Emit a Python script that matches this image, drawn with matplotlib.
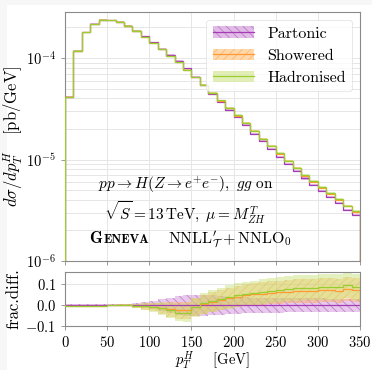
import numpy as np
import matplotlib
matplotlib.use("Agg")
import matplotlib.pyplot as plt
from matplotlib.patches import Patch, Rectangle
from matplotlib.lines import Line2D

plt.rcParams['font.family'] = 'serif'
plt.rcParams['font.serif'] = ['cmr10']
plt.rcParams['mathtext.fontset'] = 'cm'
plt.rcParams['axes.formatter.use_mathtext'] = True
plt.rcParams['hatch.linewidth'] = 0.6
plt.rcParams['axes.unicode_minus'] = True

# bin edges (GeV)
edges = np.arange(0, 360, 10)

# partonic spectrum dsigma/dpT [pb/GeV]
partonic = [4.17e-5, 1.185e-4, 1.805e-4, 2.18e-4, 2.395e-4, 2.37e-4, 2.28e-4,
            2.08e-4, 1.86e-4, 1.63e-4, 1.43e-4, 1.24e-4, 1.08e-4, 9.4e-5,
            7.9e-5, 6.5e-5, 5.4e-5, 4.45e-5, 3.72e-5, 3.1e-5, 2.6e-5, 2.18e-5,
            1.8e-5, 1.51e-5, 1.27e-5, 1.07e-5, 9.05e-6, 7.7e-6, 6.5e-6, 5.6e-6,
            4.88e-6, 4.26e-6, 3.71e-6, 3.2e-6, 2.83e-6]

# fractional differences w.r.t. partonic
diff_shower = [-0.002, -0.002, -0.002, -0.002, -0.002, -0.001, 0.0, 0.0, -0.003,
               -0.006, -0.01, -0.015, -0.02, -0.025, -0.025, -0.01, 0.005, 0.015,
               0.025, 0.035, 0.042, 0.048, 0.052, 0.056, 0.06, 0.063, 0.066,
               0.068, 0.07, 0.07, 0.072, 0.072, 0.07, 0.08, 0.072]
diff_hadron = [-0.004, -0.004, -0.003, -0.002, -0.002, -0.001, 0.0, 0.0, -0.002,
               -0.005, -0.01, -0.015, -0.025, -0.035, -0.035, -0.01, 0.01, 0.02,
               0.03, 0.04, 0.048, 0.053, 0.06, 0.065, 0.07, 0.075, 0.08, 0.082,
               0.085, 0.085, 0.086, 0.086, 0.088, 0.097, 0.088]

# band half-widths (fractional)
err_parton = [0.005, 0.005, 0.004, 0.004, 0.004, 0.004, 0.005, 0.006, 0.01,
              0.015, 0.02, 0.03, 0.037, 0.045, 0.05, 0.05, 0.05, 0.048, 0.045,
              0.042, 0.04, 0.038, 0.036, 0.035, 0.035, 0.035, 0.034, 0.034,
              0.033, 0.033, 0.033, 0.032, 0.032, 0.032, 0.032]
err_shower = [0.004, 0.004, 0.003, 0.003, 0.003, 0.003, 0.004, 0.006, 0.01,
              0.015, 0.02, 0.028, 0.035, 0.04, 0.042, 0.044, 0.046, 0.048, 0.05,
              0.05, 0.052, 0.053, 0.054, 0.055, 0.056, 0.056, 0.057, 0.057,
              0.058, 0.058, 0.058, 0.058, 0.058, 0.058, 0.058]
err_hadron = [0.004, 0.004, 0.003, 0.003, 0.003, 0.003, 0.004, 0.006, 0.01,
              0.016, 0.022, 0.03, 0.036, 0.042, 0.045, 0.047, 0.05, 0.052, 0.054,
              0.056, 0.057, 0.058, 0.059, 0.06, 0.06, 0.061, 0.061, 0.062,
              0.062, 0.062, 0.062, 0.062, 0.062, 0.062, 0.062]
# band in the spectrum panel (fractional)
err_main = [0.005, 0.005, 0.005, 0.005, 0.005, 0.005, 0.005, 0.006, 0.007,
            0.008, 0.009, 0.01, 0.011, 0.012, 0.013, 0.014, 0.015, 0.016, 0.017,
            0.018, 0.019, 0.02, 0.02, 0.021, 0.021, 0.022, 0.022, 0.023, 0.023,
            0.024, 0.024, 0.025, 0.025, 0.025, 0.025]

partonic = np.array(partonic)
diff_shower = np.array(diff_shower)
diff_hadron = np.array(diff_hadron)
showered = partonic * (1 + diff_shower)
hadronised = partonic * (1 + diff_hadron)

series = [
    ("Partonic", partonic, np.zeros_like(partonic), np.array(err_parton),
     '#a43cb4', '#c47ad0', '\\\\\\\\', 0.4),
    ("Showered", showered, diff_shower, np.array(err_shower),
     '#ff9a35', '#ffb25a', '////', 0.4),
    ("Hadronised", hadronised, diff_hadron, np.array(err_hadron),
     '#9acd32', '#c4e070', None, 0.45),
]

fig = plt.figure(figsize=(3.72, 3.70), dpi=100)
fig.patch.set_facecolor('#f7f7f7')
fig.patches.append(Rectangle((7 / 372, 0), 1, (370 - 5) / 370, transform=fig.transFigure,
                             facecolor='white', edgecolor='none', zorder=-10))

ax = fig.add_axes([65 / 372, (370 - 261) / 370, 295 / 372, 249 / 370])
axr = fig.add_axes([65 / 372, (370 - 326) / 370, 295 / 372, 54 / 370])

emain = np.array(err_main)
handles = []
for name, vals, dif, err, lc, fc, hatch, alpha in series:
    ax.stairs(vals * (1 + emain), edges, baseline=vals * (1 - emain), fill=True,
              facecolor=fc, alpha=0.5, edgecolor='none', zorder=2)
    ax.stairs(vals, edges, color=lc, lw=0.9, zorder=3)

    axr.stairs(dif + err, edges, baseline=dif - err, fill=True,
               facecolor=fc, alpha=alpha, edgecolor='none', zorder=2)
    if hatch:
        axr.stairs(dif + err, edges, baseline=dif - err, fill=False, hatch=hatch,
                   edgecolor=lc, alpha=0.5, lw=0, zorder=2)
    axr.stairs(dif, edges, color=lc, lw=0.9, zorder=3)

    patch = Patch(facecolor=fc, alpha=0.5, hatch=hatch, edgecolor=lc if hatch else 'none', lw=0)
    handles.append(((patch, Line2D([], [], color=lc, lw=0.9)), name))

for a in (ax, axr):
    a.set_xlim(0, 350)
    a.set_xticks([0, 50, 100, 150, 200, 250, 300, 350])
    for s in a.spines.values():
        s.set_color('#8a8a8a')
    a.tick_params(colors='#8a8a8a', labelcolor='black', labelsize=10.5, length=3,
                  width=0.6)
    a.tick_params(which='minor', length=0)
    a.set_axisbelow(True)

ax.set_yscale('log')
ax.set_ylim(1e-6, 2.84e-4)
ax.grid(True, which='both', color='#e6e6e6', lw=0.7)
ax.tick_params(labelbottom=False)
ax.set_ylabel(r'$d\sigma/dp_T^H$   [pb/GeV]', fontsize=12, labelpad=1)

axr.set_ylim(-0.1, 0.16)
axr.set_yticks([-0.1, 0.0, 0.1])
axr.set_yticklabels([r'$-0.1$', r'$0.0$', r'$0.1$'])
axr.grid(True, color='#e6e6e6', lw=0.7)
axr.set_ylabel('frac.diff.', fontsize=12, labelpad=3)
axr.set_xlabel(r'$p_T^H$    [GeV]', fontsize=10.5, labelpad=-0.5)

leg = ax.legend([h for h, _ in handles], [n for _, n in handles], loc='upper right',
                fontsize=11.5, handlelength=2.6, frameon=True, fancybox=True,
                borderaxespad=0.5, labelspacing=0.5)
leg.get_frame().set_edgecolor('#dddddd')
leg.get_frame().set_linewidth(0.6)

ax.text(0.41, 0.305, r'$pp \to H(Z \to e^{+}e^{-}),\ gg$ on', transform=ax.transAxes,
        ha='center', va='center', fontsize=11)
ax.text(0.405, 0.195, r'$\sqrt{S} = 13\,\mathrm{TeV},\ \mu = M_{ZH}^{T}$',
        transform=ax.transAxes, ha='center', va='center', fontsize=11)
ax.text(0.083, 0.072, 'G', transform=ax.transAxes, ha='left', va='baseline',
        fontsize=12, family='cmb10')
ax.text(0.13, 0.072, 'ENEVA', transform=ax.transAxes, ha='left', va='baseline',
        fontsize=9.2, family='cmb10')
ax.text(0.56, 0.072, r"$\mathrm{NNLL}^{\prime}_{\mathcal{T}} + \mathrm{NNLO}_0$",
        transform=ax.transAxes, ha='center', va='baseline', fontsize=11.5)

fig.savefig('out.png', dpi=100, facecolor=fig.get_facecolor())
